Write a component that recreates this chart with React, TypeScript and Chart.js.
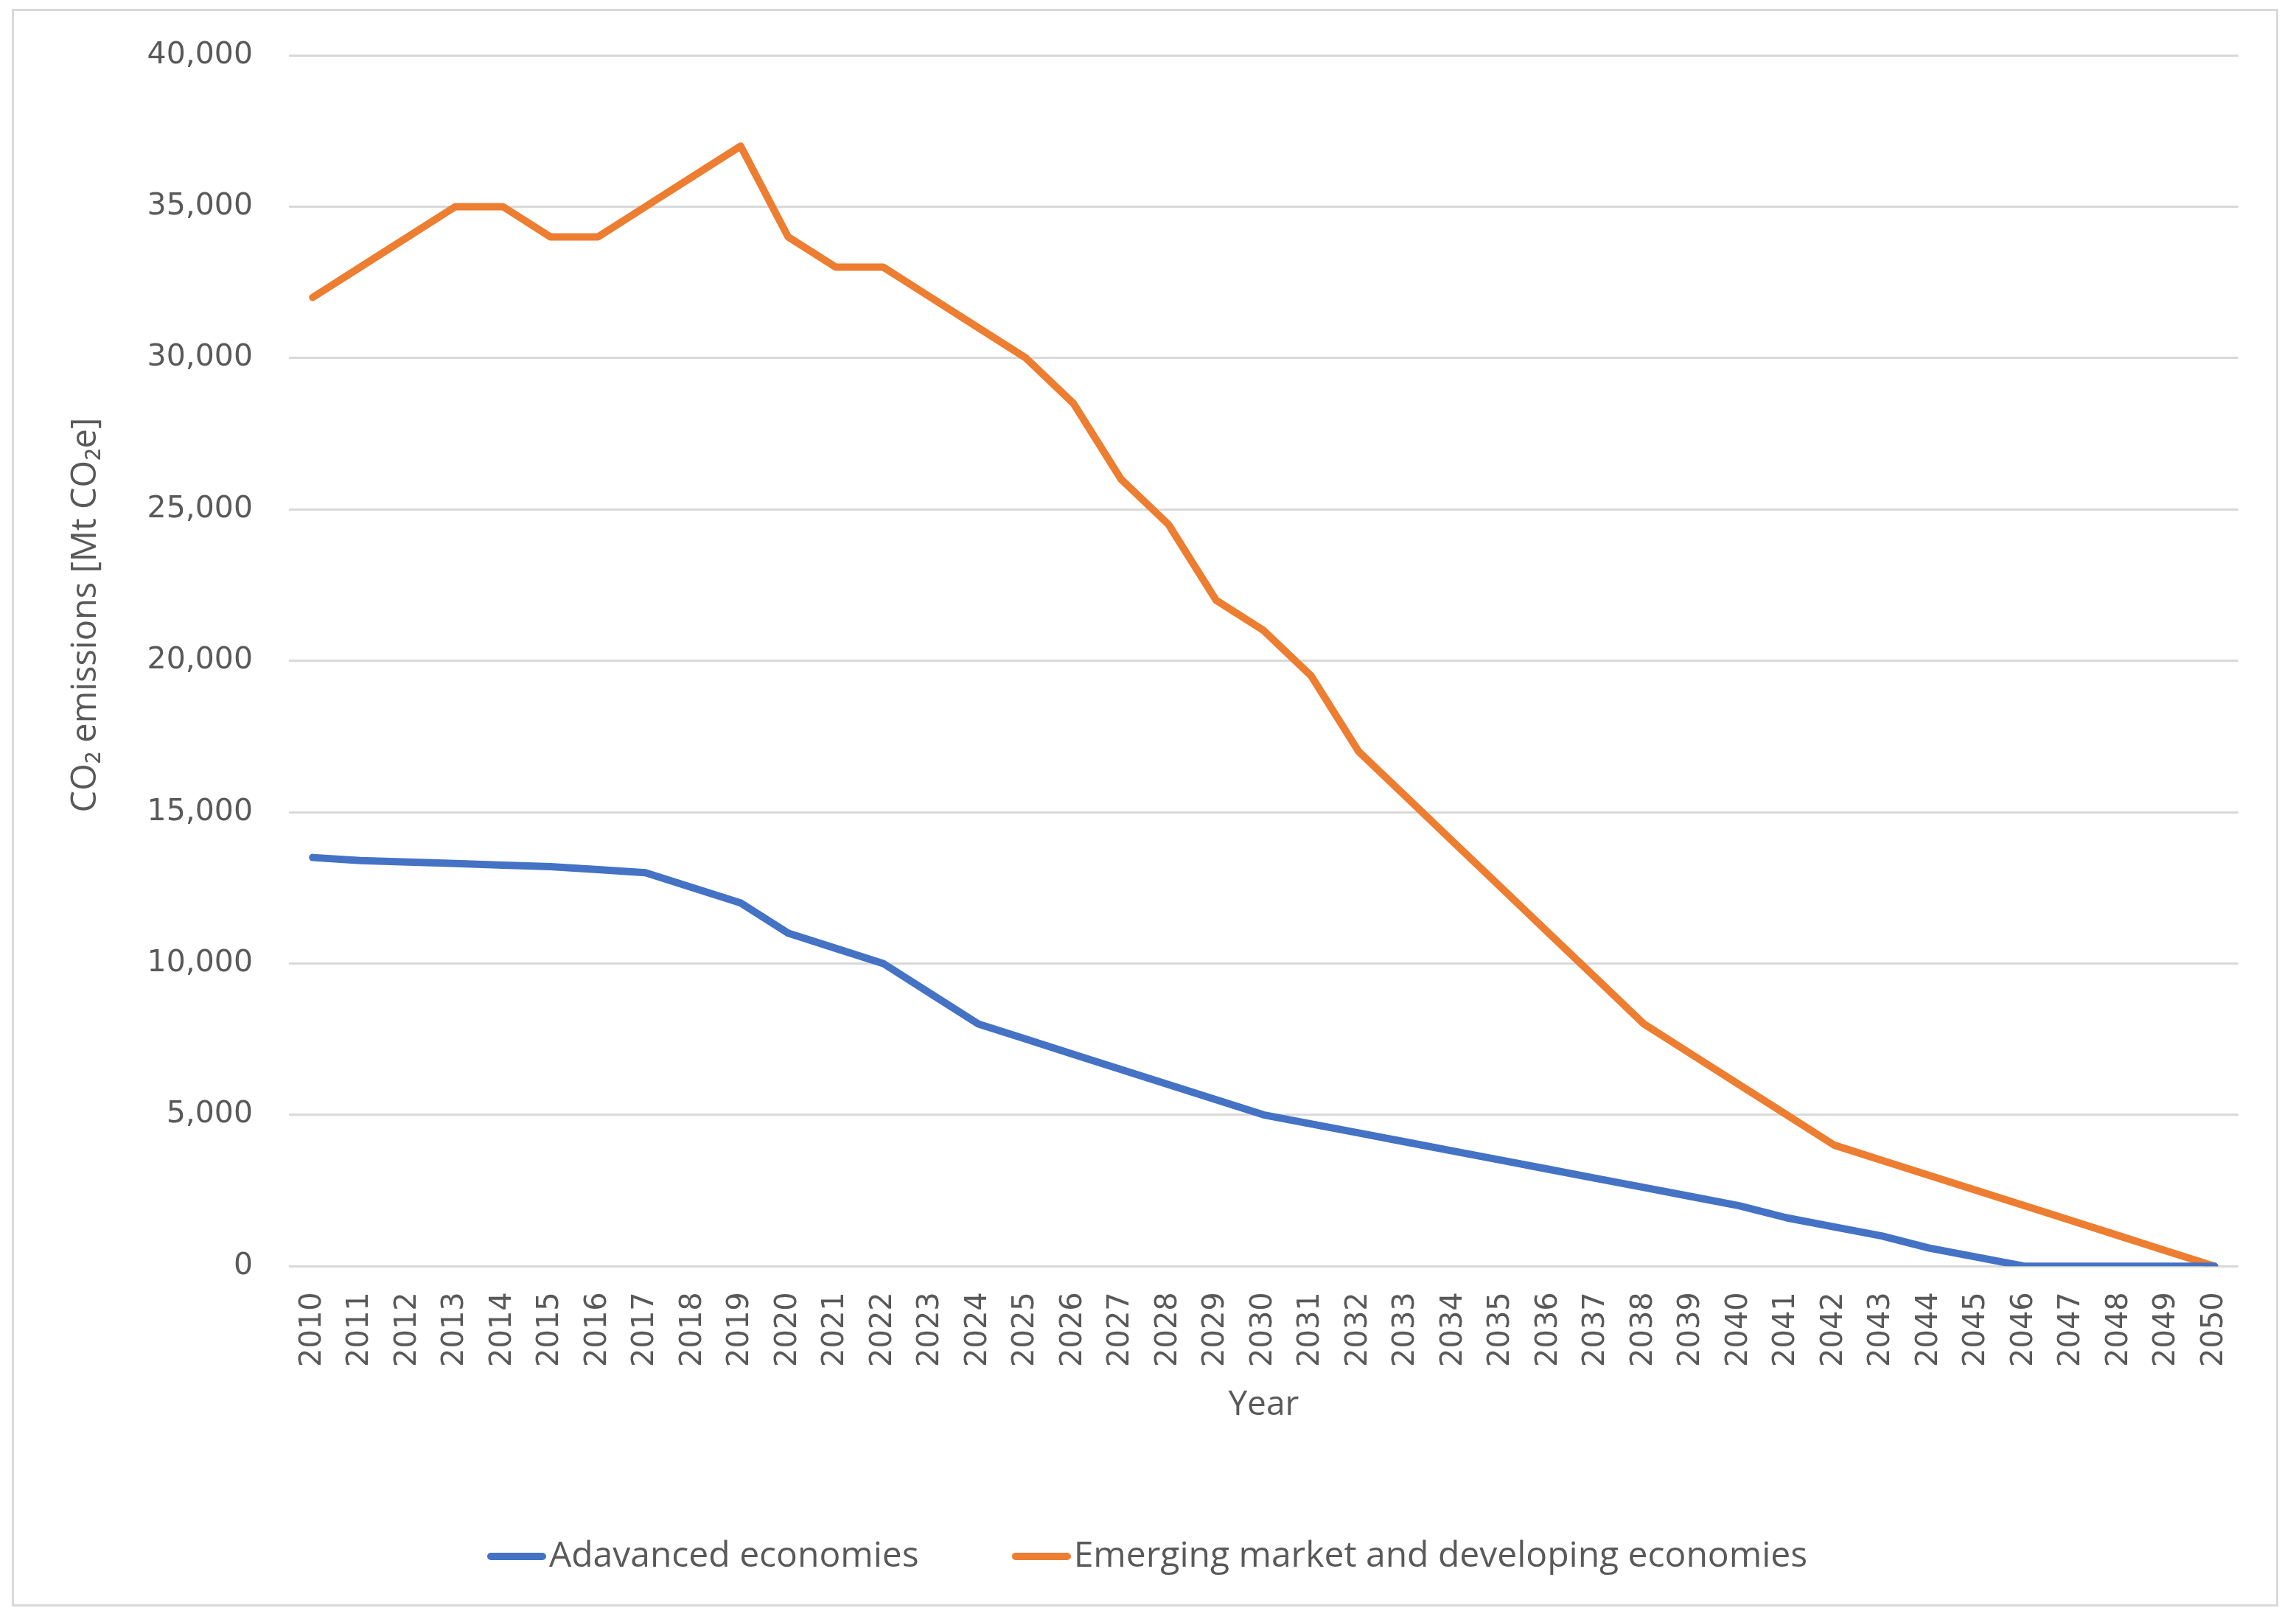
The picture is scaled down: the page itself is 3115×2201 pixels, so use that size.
import React, { useEffect, useRef } from 'react';
import { Chart, registerables } from 'chart.js';

Chart.register(...registerables);

const years: string[] = [
  '2010', '2011', '2012', '2013', '2014', '2015', '2016', '2017', '2018', '2019',
  '2020', '2021', '2022', '2023', '2024', '2025', '2026', '2027', '2028', '2029',
  '2030', '2031', '2032', '2033', '2034', '2035', '2036', '2037', '2038', '2039',
  '2040', '2041', '2042', '2043', '2044', '2045', '2046', '2047', '2048', '2049',
  '2050',
];

const advancedEconomies: number[] = [
  13500, 13400, 13350, 13300, 13250, 13200, 13100, 13000, 12500, 12000,
  11000, 10500, 10000, 9000, 8000, 7500, 7000, 6500, 6000, 5500,
  5000, 4700, 4400, 4100, 3800, 3500, 3200, 2900, 2600, 2300,
  2000, 1600, 1300, 1000, 600, 300, 0, 0, 0, 0,
  0,
];

const emergingEconomies: number[] = [
  32000, 33000, 34000, 35000, 35000, 34000, 34000, 35000, 36000, 37000,
  34000, 33000, 33000, 32000, 31000, 30000, 28500, 26000, 24500, 22000,
  21000, 19500, 17000, 15500, 14000, 12500, 11000, 9500, 8000, 7000,
  6000, 5000, 4000, 3500, 3000, 2500, 2000, 1500, 1000, 500,
  0,
];

const seriesNames: string[] = ['Adavanced economies', 'Emerging market and developing economies'];
const seriesColors: string[] = ['#4472C4', '#ED7D31'];
const yAxisTitle = 'CO\u2082 emissions [Mt CO\u2082e]';
const xAxisTitle = 'Year';

const TEXT = '#595959';
const GRID = '#d9d9d9';

function makeLineSwatch(color: string): HTMLCanvasElement {
  const c = document.createElement('canvas');
  c.width = 80;
  c.height = 12;
  const ctx = c.getContext('2d');
  if (ctx) {
    ctx.strokeStyle = color;
    ctx.lineWidth = 10;
    ctx.lineCap = 'round';
    ctx.beginPath();
    ctx.moveTo(5, 6);
    ctx.lineTo(75, 6);
    ctx.stroke();
  }
  return c;
}

const yTitlePlugin = {
  id: 'yTitlePlugin',
  afterDraw(chart: any) {
    const { ctx, chartArea, scales } = chart;
    const yScale = scales.y;
    ctx.save();
    ctx.fillStyle = TEXT;
    ctx.font = '47px "Open Sans"';
    ctx.textAlign = 'center';
    ctx.textBaseline = 'middle';
    ctx.translate(yScale.left + 27, (chartArea.top + chartArea.bottom) / 2 - 62);
    ctx.rotate(-Math.PI / 2);
    ctx.fillText(yAxisTitle, 0, 0);
    ctx.restore();
  },
};

export default function App() {
  const canvasRef = useRef<HTMLCanvasElement | null>(null);

  useEffect(() => {
    document.body.style.margin = '0';
    const canvas = canvasRef.current;
    if (!canvas) return;
    const swatches = seriesColors.map(makeLineSwatch);
    const chart = new Chart(canvas, {
      type: 'line',
      data: {
        labels: years,
        datasets: [
          {
            label: seriesNames[0],
            data: advancedEconomies,
            borderColor: seriesColors[0],
            backgroundColor: seriesColors[0],
            borderWidth: 10,
            pointRadius: 0,
            pointHoverRadius: 0,
            borderCapStyle: 'round',
            borderJoinStyle: 'round',
            tension: 0,
            fill: false,
          },
          {
            label: seriesNames[1],
            data: emergingEconomies,
            borderColor: seriesColors[1],
            backgroundColor: seriesColors[1],
            borderWidth: 10,
            pointRadius: 0,
            pointHoverRadius: 0,
            borderCapStyle: 'round',
            borderJoinStyle: 'round',
            tension: 0,
            fill: false,
          },
        ],
      },
      options: {
        animation: false,
        responsive: true,
        maintainAspectRatio: false,
        events: [],
        layout: { padding: { top: 60, right: 45, bottom: 31, left: 71 } },
        scales: {
          x: {
            type: 'category',
            offset: true,
            grid: { display: false, drawTicks: false },
            border: { display: false },
            ticks: {
              autoSkip: false,
              minRotation: 90,
              maxRotation: 90,
              padding: 35,
              color: TEXT,
              font: { family: 'DejaVu Sans', size: 40 },
            },
            title: {
              display: true,
              text: xAxisTitle,
              color: TEXT,
              font: { family: 'Open Sans', size: 46 },
              padding: { top: -10.6, bottom: 7.4 },
            },
          },
          y: {
            min: 0,
            max: 40000,
            grid: { color: GRID, lineWidth: 3, drawTicks: false },
            border: { display: false },
            afterFit: (s: any) => {
              s.width = 302;
              s.paddingTop = 25;
              s.paddingBottom = 25;
            },
            ticks: {
              stepSize: 5000,
              padding: 49,
              color: TEXT,
              font: { family: 'DejaVu Sans', size: 41 },
              callback: (v: any) => Number(v).toLocaleString('en-US'),
            },
          },
        },
        plugins: {
          tooltip: { enabled: false },
          title: { display: false },
          legend: {
            display: true,
            position: 'bottom',
            labels: {
              usePointStyle: true,
              pointStyleWidth: 40,
              boxHeight: 9,
              padding: 146,
              color: TEXT,
              font: { family: 'Open Sans', size: 48 },
              generateLabels: (c: any) => {
                const items = Chart.defaults.plugins.legend.labels.generateLabels(c);
                return items.map((it: any, i: number) => ({
                  ...it,
                  lineWidth: 0,
                  fillStyle: seriesColors[i],
                  pointStyle: swatches[i],
                }));
              },
            },
          },
        },
      },
      plugins: [yTitlePlugin],
    });
    return () => chart.destroy();
  }, []);

  return (
    <div style={{ position: 'absolute', left: 0, top: 0, width: 3115, height: 2201, background: '#fff' }}>
      <div
        style={{
          position: 'absolute',
          left: 16,
          top: 12,
          width: 3069,
          height: 2162,
          border: `3px solid ${GRID}`,
        }}
      >
        <canvas ref={canvasRef} />
      </div>
    </div>
  );
}
